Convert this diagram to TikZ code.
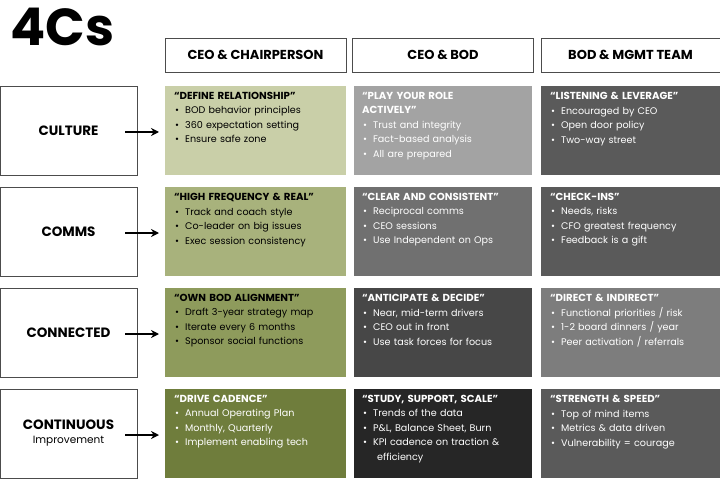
\documentclass[tikz,border=0pt]{standalone}
\usepackage{fontspec}
\setmainfont{Poppins}
\usetikzlibrary{arrows.meta,positioning}
\definecolor{olA}{HTML}{C9CFA8}
\definecolor{olB}{HTML}{A8B27C}
\definecolor{olC}{HTML}{8E9B5C}
\definecolor{olD}{HTML}{6F7D3C}
\definecolor{grA}{HTML}{A3A3A3}
\definecolor{grB}{HTML}{707070}
\definecolor{grC}{HTML}{474747}
\definecolor{grD}{HTML}{262626}
\definecolor{grE}{HTML}{5A5A5A}
\definecolor{grF}{HTML}{7D7D7D}
\tikzset{
  head/.style={draw=black!70,minimum width=181pt,minimum height=34pt,font=\bfseries\fontsize{13}{15}\selectfont,inner sep=0pt},
  cat/.style={draw=black!70,minimum width=137pt,minimum height=89pt,font=\bfseries\fontsize{13.5}{15}\selectfont,align=center,inner sep=0pt},
  txt/.style={anchor=north west,text width=172pt,align=left,inner sep=0pt,font=\fontsize{9.6}{14.5}\selectfont},
  arr/.style={-{Stealth[length=8pt,width=8pt]},line width=1.8pt}
}
\newcommand{\ttl}[1]{{\bfseries\fontsize{10.2}{14.5}\selectfont #1}\\}
\newcommand{\itm}[1]{\hspace*{1pt}\textbullet\hspace{6pt}#1\\}
\begin{document}
\begin{tikzpicture}[x=1pt,y=-1pt]
\useasboundingbox (0,0) rectangle (720,500);
\node[anchor=north west,inner sep=0pt,font=\bfseries\fontsize{52}{52}\selectfont] (title) at (10,8) {4Cs};

% column heads
\node[head] (h1) at (255.5,55) {CEO \& CHAIRPERSON};
\node[head] (h2) at (443,55) {CEO \& BOD};
\node[head,minimum width=179pt] (h3) at (630.5,55) {BOD \& MGMT TEAM};

% rows
\foreach \r/\lab/\ya/\ca/\cb/\cc in {1/CULTURE/86/olA/grA/grE, 2/COMMS/187/olB/grB/grE, 3/CONNECTED/288/olC/grC/grF, 4/{CONTINUOUS\\[-1pt]{\mdseries\fontsize{10.5}{13}\selectfont Improvement}}/389/olD/grD/grE}{
  \node[cat] (c\r) at (68.5,\ya+44.5) {\lab};
  \fill[\ca] (165,\ya) rectangle (346,\ya+89);
  \fill[\cb] (354,\ya) rectangle (532,\ya+89);
  \fill[\cc] (541,\ya) rectangle (720,\ya+89);
  \coordinate (s\r) at (125,\ya+46);
  \coordinate (a\r) at (159,\ya+46);
  \draw[arr] (s\r) -- (a\r);
}

\node[txt] at (174,92) {\ttl{“DEFINE RELATIONSHIP”}\itm{BOD behavior principles}\itm{360 expectation setting}\itm{Ensure safe zone}};
\node[txt,text=white] at (362,92) {\ttl{“PLAY YOUR ROLE\\ACTIVELY”}\itm{Trust and integrity}\itm{Fact-based analysis}\itm{All are prepared}};
\node[txt,text=white] at (550,92) {\ttl{“LISTENING \& LEVERAGE”}\itm{Encouraged by CEO}\itm{Open door policy}\itm{Two-way street}};

\node[txt] at (174,193) {\ttl{“HIGH FREQUENCY \& REAL”}\itm{Track and coach style}\itm{Co-leader on big issues}\itm{Exec session consistency}};
\node[txt,text=white] at (362,193) {\ttl{“CLEAR AND CONSISTENT”}\itm{Reciprocal comms}\itm{CEO sessions}\itm{Use Independent on Ops}};
\node[txt,text=white] at (550,193) {\ttl{“CHECK-INS”}\itm{Needs, risks}\itm{CFO greatest frequency}\itm{Feedback is a gift}};

\node[txt] at (174,294) {\ttl{“OWN BOD ALIGNMENT”}\itm{Draft 3-year strategy map}\itm{Iterate every 6 months}\itm{Sponsor social functions}};
\node[txt,text=white] at (362,294) {\ttl{“ANTICIPATE \& DECIDE”}\itm{Near, mid-term drivers}\itm{CEO out in front}\itm{Use task forces for focus}};
\node[txt,text=white] at (550,294) {\ttl{“DIRECT \& INDIRECT”}\itm{Functional priorities / risk}\itm{1-2 board dinners / year}\itm{Peer activation / referrals}};

\node[txt,text=white] at (174,395) {\ttl{“DRIVE CADENCE”}\itm{Annual Operating Plan}\itm{Monthly, Quarterly}\itm{Implement enabling tech}};
\node[txt,text=white] at (362,395) {\ttl{“STUDY, SUPPORT, SCALE”}\itm{Trends of the data}\itm{P\&L, Balance Sheet, Burn}\itm{KPI cadence on traction \&}\hspace*{15pt}efficiency};
\node[txt,text=white] at (550,395) {\ttl{“STRENGTH \& SPEED”}\itm{Top of mind items}\itm{Metrics \& data driven}\itm{Vulnerability = courage}};
\end{tikzpicture}
\end{document}
